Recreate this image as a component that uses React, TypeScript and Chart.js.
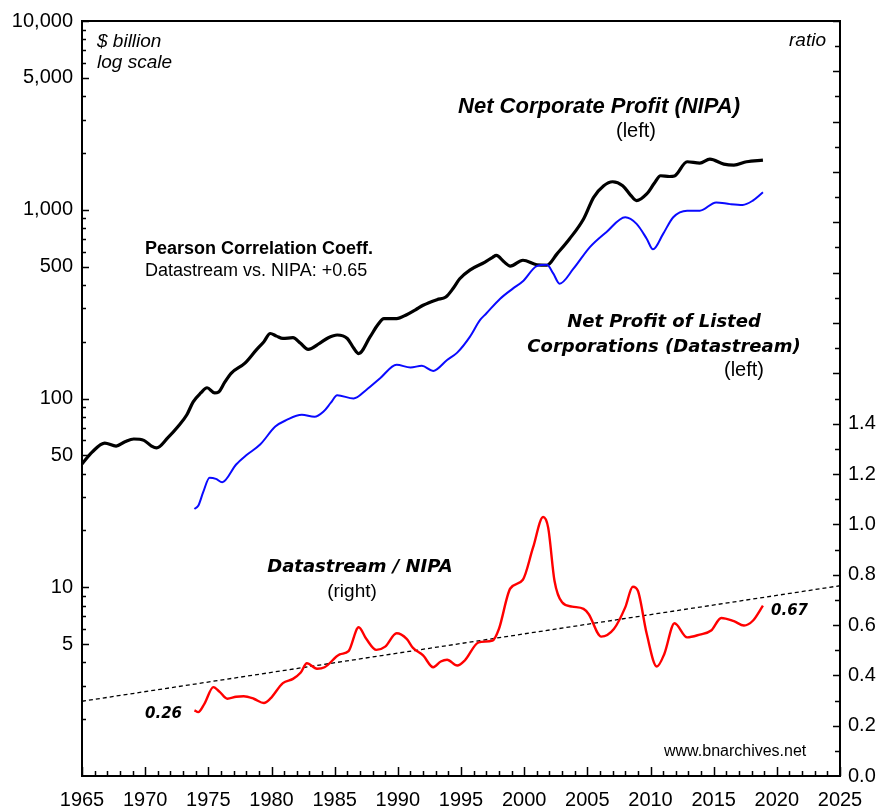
import React, { useEffect, useRef } from "react";
import { Chart, registerables } from "chart.js";

Chart.register(...registerables);

// Net Corporate Profit (NIPA), $ billion
const nipaYears = [1965.0, 1965.8, 1966.8, 1967.7, 1968.4, 1969.1, 1969.9, 1970.5, 1970.9, 1971.8, 1972.6, 1973.3, 1973.8, 1974.4, 1974.9, 1975.5, 1975.8, 1976.3, 1976.8, 1977.9, 1978.8, 1979.4, 1979.9, 1980.4, 1980.9, 1981.7, 1982.3, 1982.9, 1983.8, 1984.5, 1985.2, 1986.0, 1986.5, 1986.9, 1987.8, 1988.4, 1988.9, 1989.9, 1990.7, 1991.4, 1992.0, 1993.1, 1993.8, 1994.4, 1994.9, 1995.7, 1996.9, 1997.5, 1997.8, 1998.4, 1998.9, 1999.9, 2001.0, 2001.8, 2002.6, 2003.6, 2004.7, 2005.5, 2006.3, 2007.0, 2007.8, 2008.4, 2008.9, 2009.7, 2010.3, 2010.8, 2011.5, 2011.9, 2012.9, 2013.9, 2014.7, 2015.8, 2016.6, 2017.6, 2018.9];
const nipaValues = [45, 52, 58, 56, 59, 61, 60, 56, 54.7, 62, 71, 82, 96, 107, 114, 107, 108, 122, 136, 154, 181, 200, 221, 214, 208, 210, 196, 182, 196, 210, 217, 208, 185, 173, 212, 245, 265, 265, 278, 295, 312, 334, 345, 385, 431, 479, 528, 560, 573, 530, 503, 540, 511, 508, 584, 702, 894, 1164, 1341, 1407, 1341, 1200, 1118, 1213, 1380, 1514, 1500, 1510, 1796, 1766, 1854, 1745, 1722, 1796, 1832];

// Net Profit of Listed Corporations (Datastream), $ billion
const dsYears = [1973.9, 1974.2, 1974.6, 1975.1, 1975.6, 1976.1, 1977.2, 1978.0, 1979.1, 1980.3, 1981.2, 1982.4, 1983.4, 1984.1, 1984.7, 1985.2, 1986.5, 1987.5, 1988.6, 1989.9, 1991.0, 1991.9, 1992.8, 1993.9, 1994.7, 1995.7, 1996.5, 1997.0, 1998.1, 1999.1, 1999.9, 2001.0, 2001.8, 2002.3, 2002.8, 2003.9, 2005.2, 2006.5, 2008.0, 2008.9, 2009.7, 2010.2, 2011.0, 2011.8, 2012.9, 2013.9, 2015.2, 2016.3, 2017.3, 2018.1, 2018.9];
const dsValues = [26, 27, 32, 38, 37.5, 36, 44.7, 50, 57, 71, 77, 82, 80, 85, 95, 104, 100, 111, 128, 151, 146, 149, 140, 160, 175, 212, 260, 282, 338, 382, 418, 503, 511, 460, 406, 487, 634, 761, 913, 842, 702, 617, 745, 913, 989, 989, 1094, 1071, 1060, 1118, 1237];

// Datastream / NIPA ratio (right axis)
const ratioYears = [1973.9, 1974.2, 1974.7, 1975.4, 1975.9, 1976.5, 1977.2, 1977.8, 1978.6, 1979.4, 1979.9, 1980.9, 1981.7, 1982.3, 1982.8, 1983.6, 1984.2, 1985.4, 1986.1, 1986.9, 1987.5, 1988.3, 1989.0, 1989.9, 1990.7, 1991.2, 1992.0, 1992.8, 1993.4, 1993.9, 1994.7, 1995.3, 1996.4, 1997.5, 1998.0, 1998.9, 1999.9, 2000.7, 2001.5, 2001.9, 2002.4, 2003.0, 2003.8, 2004.7, 2005.1, 2006.1, 2007.1, 2008.0, 2008.6, 2009.0, 2009.7, 2010.5, 2011.1, 2011.9, 2012.9, 2013.9, 2014.8, 2015.6, 2016.6, 2017.4, 2018.1, 2018.9];
const ratioValues = [0.261, 0.254, 0.288, 0.353, 0.334, 0.307, 0.315, 0.317, 0.307, 0.290, 0.307, 0.369, 0.386, 0.41, 0.448, 0.426, 0.432, 0.483, 0.496, 0.591, 0.545, 0.501, 0.514, 0.567, 0.545, 0.509, 0.479, 0.432, 0.455, 0.462, 0.439, 0.459, 0.531, 0.538, 0.584, 0.745, 0.780, 0.907, 1.029, 0.987, 0.776, 0.690, 0.673, 0.664, 0.644, 0.554, 0.584, 0.670, 0.752, 0.736, 0.565, 0.435, 0.486, 0.607, 0.551, 0.562, 0.578, 0.628, 0.615, 0.598, 0.617, 0.677];

// Linear trend of the ratio
const trendYears = [1965, 2025];
const trendValues = [0.297, 0.756];

// Tick labels
const xTickLabels = [1965, 1970, 1975, 1980, 1985, 1990, 1995, 2000, 2005, 2010, 2015, 2020, 2025];
const leftTickLabels = [5, 10, 50, 100, 500, 1000, 5000, 10000];
const rightTickLabels = [0, 0.2, 0.4, 0.6, 0.8, 1.0, 1.2, 1.4];

const SANS = '"Liberation Sans", Arial, sans-serif';
const VERD = '"DejaVu Sans", Verdana, sans-serif';

const pts = (xs: number[], ys: number[]) => xs.map((x, i) => ({ x, y: ys[i] }));

const decorPlugin = {
  id: "decor",
  afterDraw(chart: any) {
    const ctx = chart.ctx;
    const a = chart.chartArea;
    const xs = chart.scales.x;
    const yl = chart.scales.y;
    const yr = chart.scales.y1;
    ctx.save();
    ctx.strokeStyle = "#000";
    ctx.lineWidth = 1.5;
    ctx.beginPath();
    // bottom ticks (every year)
    for (let yr0 = 1965; yr0 <= 2025; yr0++) {
      const px = Math.round(xs.getPixelForValue(yr0)) + 0.5;
      const len = yr0 % 5 === 0 ? 9 : 5;
      ctx.moveTo(px, a.bottom);
      ctx.lineTo(px, a.bottom - len);
    }
    // left log ticks
    for (let dec = 1; dec <= 1000; dec *= 10) {
      for (let m = 1; m <= 9; m++) {
        const v = dec * m;
        if (v <= 1) continue;
        const py = Math.round(yl.getPixelForValue(v)) + 0.5;
        const len = m === 1 || m === 5 ? 7 : 4;
        ctx.moveTo(a.left, py);
        ctx.lineTo(a.left + len, py);
      }
    }
    {
      const py = Math.round(yl.getPixelForValue(10000)) + 0.5;
      ctx.moveTo(a.left, py);
      ctx.lineTo(a.left + 7, py);
    }
    // right ticks every 0.1
    for (let k = 1; k <= 30; k++) {
      const py = Math.round(yr.getPixelForValue(k / 10)) + 0.5;
      const len = k % 2 === 0 ? 7 : 5;
      ctx.moveTo(a.right, py);
      ctx.lineTo(a.right - len, py);
    }
    ctx.stroke();
    // frame
    ctx.lineWidth = 2;
    ctx.strokeRect(a.left, a.top, a.right - a.left, a.bottom - a.top);

    // texts
    ctx.fillStyle = "#000";
    ctx.textBaseline = "alphabetic";
    ctx.textAlign = "left";
    ctx.font = `italic 19px ${SANS}`;
    ctx.fillText("$ billion", 97, 47);
    ctx.fillText("log scale", 97, 68);
    ctx.textAlign = "right";
    ctx.fillText("ratio", 826, 46);

    ctx.textAlign = "center";
    ctx.font = `italic bold 22px ${SANS}`;
    ctx.fillText("Net Corporate Profit (NIPA)", 599, 113);
    ctx.font = `20px ${SANS}`;
    ctx.fillText("(left)", 636, 137);

    ctx.textAlign = "left";
    ctx.font = `bold 18px ${SANS}`;
    ctx.fillText("Pearson Correlation Coeff.", 145, 254);
    ctx.font = `18px ${SANS}`;
    ctx.fillText("Datastream vs. NIPA: +0.65", 145, 276);

    ctx.textAlign = "center";
    ctx.font = `italic bold 18px ${VERD}`;
    ctx.fillText("Net Profit of Listed", 664, 327);
    ctx.fillText("Corporations (Datastream)", 664, 352);
    ctx.font = `20px ${SANS}`;
    ctx.fillText("(left)", 744, 376);

    ctx.font = `italic bold 18px ${VERD}`;
    ctx.fillText("Datastream / NIPA", 360, 572);
    ctx.font = `19px ${SANS}`;
    ctx.fillText("(right)", 352, 597);

    ctx.textAlign = "left";
    ctx.font = `italic bold 15px ${VERD}`;
    ctx.fillText("0.26", 145, 718);
    ctx.fillText("0.67", 771, 615);

    ctx.font = `16px ${SANS}`;
    ctx.fillText("www.bnarchives.net", 664, 756);
    ctx.restore();
  },
};

export default function App() {
  const ref = useRef<HTMLCanvasElement | null>(null);
  useEffect(() => {
    document.body.style.margin = "0";
    const canvas = ref.current!;
    const chart = new Chart(canvas, {
      type: "line",
      data: {
        datasets: [
          {
            label: "Net Profit of Listed Corporations (Datastream)",
            data: pts(dsYears, dsValues),
            yAxisID: "y",
            borderColor: "#0a0aff",
            borderWidth: 2,
            pointRadius: 0,
            cubicInterpolationMode: "monotone",
            order: 0,
          },
          {
            label: "Net Corporate Profit (NIPA)",
            data: pts(nipaYears, nipaValues),
            yAxisID: "y",
            borderColor: "#000",
            borderWidth: 3.2,
            pointRadius: 0,
            cubicInterpolationMode: "monotone",
            order: 1,
          },
          {
            label: "Datastream / NIPA",
            data: pts(ratioYears, ratioValues),
            yAxisID: "y1",
            borderColor: "#ff0000",
            borderWidth: 2.4,
            pointRadius: 0,
            cubicInterpolationMode: "monotone",
            order: 2,
          },
          {
            label: "Trend",
            data: pts(trendYears, trendValues),
            yAxisID: "y1",
            borderColor: "#000",
            borderWidth: 1.3,
            borderDash: [4, 3],
            pointRadius: 0,
            order: 3,
          },
        ],
      },
      options: {
        responsive: false,
        animation: false,
        events: [],
        layout: { padding: { top: 17, left: 0, right: 0, bottom: 0 } },
        plugins: { legend: { display: false }, tooltip: { enabled: false } },
        scales: {
          x: {
            type: "linear",
            position: "bottom",
            min: 1965,
            max: 2025,
            grid: { display: false, drawTicks: false },
            border: { display: false },
            afterBuildTicks: (s: any) => {
              s.ticks = xTickLabels.map((v) => ({ value: v }));
            },
            afterFit: (s: any) => {
              s.height = 31;
            },
            ticks: {
              autoSkip: false,
              maxRotation: 0,
              padding: 12,
              color: "#000",
              font: { family: SANS, size: 20 },
              callback: (v: any) => String(v),
            },
          },
          y: {
            type: "logarithmic",
            position: "left",
            min: 1,
            max: 10000,
            grid: { display: false, drawTicks: false },
            border: { display: false },
            afterBuildTicks: (s: any) => {
              s.ticks = leftTickLabels.map((v) => ({ value: v }));
            },
            afterFit: (s: any) => {
              s.width = 82;
            },
            ticks: {
              autoSkip: false,
              padding: 9,
              color: "#000",
              font: { family: SANS, size: 20 },
              callback: (v: any) => Number(v).toLocaleString("en-US"),
            },
          },
          y1: {
            type: "linear",
            position: "right",
            min: 0,
            max: 3,
            grid: { display: false, drawTicks: false },
            border: { display: false },
            afterBuildTicks: (s: any) => {
              s.ticks = rightTickLabels.map((v) => ({ value: v }));
            },
            afterFit: (s: any) => {
              s.width = 52;
            },
            ticks: {
              autoSkip: false,
              padding: 8,
              color: "#000",
              font: { family: SANS, size: 20 },
              callback: (v: any) => Number(v).toFixed(1),
            },
          },
        },
      },
      plugins: [decorPlugin],
    } as any);
    return () => chart.destroy();
  }, []);
  return (
    <div style={{ width: 892, height: 807, background: "#fff" }}>
      <canvas ref={ref} width={892} height={807} style={{ display: "block" }} />
    </div>
  );
}
